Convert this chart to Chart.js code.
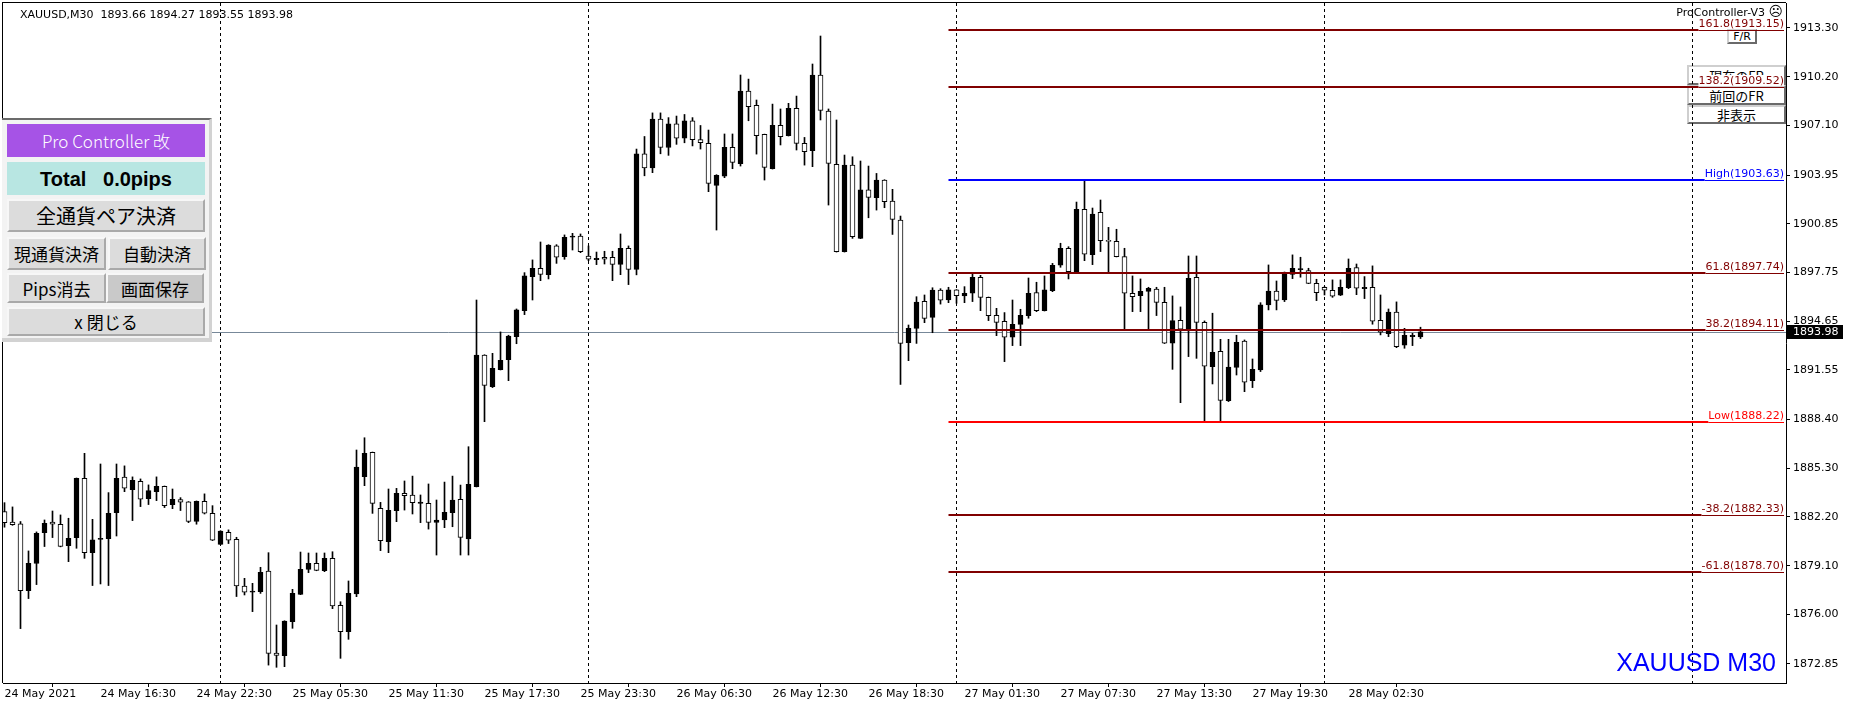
<!DOCTYPE html>
<html>
<head>
<meta charset="utf-8">
<script src="https://cdn.jsdelivr.net/npm/chart.js@4.4.1/dist/chart.umd.min.js"></script>
<style>
  body { margin: 0; background: #fff; width: 1850px; height: 707px; overflow: hidden; position: relative; }
  #chart { position: absolute; left: 0; top: 0; z-index: 1; }
  .frb { position: absolute; z-index: 0; box-sizing: border-box; background: #fff; display: flex; align-items: center; justify-content: center;
         border-top: 2px solid #cfcfcf; border-left: 2px solid #cfcfcf; border-right: 2px solid #6a6a6a; border-bottom: 2px solid #6a6a6a;
         font-family: "Noto Sans CJK JP", sans-serif; font-size: 13px; line-height: 1; color: #000; }
  #panel { position: absolute; z-index: 2; left: 2px; top: 118px; width: 210px; height: 224px; box-sizing: border-box; background: #f3f3f3;
           border-top: 2px solid #6b6b6b; border-right: 3px solid #d2d2d2; border-bottom: 4px solid #d2d2d2; }
  .pb { position: absolute; z-index: 3; box-sizing: border-box; display: flex; align-items: center; justify-content: center; white-space: pre;
        background: #dcdcdc; border-top: 2px solid #f7f7f7; border-left: 2px solid #f7f7f7; border-right: 2px solid #a9a9a9; border-bottom: 2px solid #a9a9a9;
        font-family: "Noto Sans CJK JP", sans-serif; font-size: 17px; line-height: 1; color: #000; }
</style>
</head>
<body>
<div class="frb" style="left:1727px;top:29px;width:30px;height:15px;font-family:'DejaVu Sans';font-size:11px">F/R</div>
<div class="frb" style="left:1687px;top:65px;width:99px;height:20px;align-items:flex-start;padding-top:2px">現在のFR</div>
<div class="frb" style="left:1687px;top:85px;width:99px;height:20px">前回のFR</div>
<div class="frb" style="left:1687px;top:105px;width:99px;height:19px">非表示</div>

<canvas id="chart" width="1850" height="707"></canvas>

<div id="panel"></div>
<div class="pb" style="left:7px;top:124px;width:198px;height:33px;background:#a653e6;border:none;color:#fff;font-size:17px;font-weight:300">Pro Controller 改</div>
<div class="pb" style="left:7px;top:162px;width:198px;height:33px;background:#b8e6e2;border:none;font-family:'Liberation Sans',sans-serif;font-weight:bold;font-size:20px">Total   0.0pips</div>
<div class="pb" style="left:7px;top:199px;width:198px;height:33px;font-size:20px">全通貨ペア決済</div>
<div class="pb" style="left:7px;top:237px;width:99px;height:33px">現通貨決済</div>
<div class="pb" style="left:108px;top:237px;width:98px;height:33px">自動決済</div>
<div class="pb" style="left:7px;top:273px;width:99px;height:30px">Pips消去</div>
<div class="pb" style="left:106px;top:273px;width:98px;height:30px;background:#c9c9c9">画面保存</div>
<div class="pb" style="left:7px;top:307px;width:198px;height:29px">x 閉じる</div>

<script>
// XAUUSD M30, one entry per bar
const opens = [
  1882.54, 1881.88, 1881.76, 1877.52, 1879.24, 1881.21, 1881.88, 1881.74, 1880.38, 1880.89,
  1884.66, 1879.93, 1880.78, 1880.82, 1882.48, 1884.73, 1883.94, 1884.47, 1883.37, 1883.81,
  1884.15, 1882.99, 1883.31, 1883.16, 1881.91, 1883.20, 1882.44, 1880.46, 1881.23, 1880.78,
  1877.81, 1877.41, 1877.45, 1878.76, 1873.55, 1873.38, 1875.54, 1877.28, 1878.87, 1879.25,
  1878.78, 1879.57, 1876.58, 1874.90, 1877.30, 1884.76, 1886.31, 1882.75, 1880.63, 1882.60,
  1883.70, 1883.60, 1883.07, 1883.07, 1881.86, 1882.01, 1882.47, 1883.32, 1880.80, 1884.13,
  1892.50, 1890.49, 1891.57, 1892.21, 1893.67, 1895.32, 1897.49, 1898.02, 1897.61, 1899.44,
  1898.76, 1899.99, 1900.07, 1898.80, 1898.57, 1898.72, 1898.72, 1898.27, 1899.29, 1897.95,
  1905.30, 1904.40, 1907.50, 1905.70, 1907.20, 1906.30, 1907.40, 1906.20, 1905.96, 1903.29,
  1903.88, 1905.71, 1904.67, 1909.29, 1908.38, 1906.53, 1904.35, 1907.11, 1906.45, 1908.19,
  1905.96, 1905.50, 1910.31, 1908.02, 1904.63, 1899.07, 1904.58, 1899.92, 1903.00, 1902.51,
  1903.63, 1902.29, 1901.09, 1893.28, 1894.20, 1895.91, 1894.90, 1896.63, 1896.00, 1896.64,
  1896.26, 1896.43, 1897.44, 1896.17, 1895.03, 1894.65, 1893.63, 1894.45, 1895.01, 1896.47,
  1895.32, 1896.60, 1898.21, 1899.29, 1897.76, 1901.77, 1898.89, 1901.58, 1899.78, 1899.73,
  1898.76, 1896.43, 1896.28, 1896.55, 1896.70, 1895.85, 1893.25, 1894.71, 1894.16, 1897.45,
  1894.58, 1891.76, 1892.74, 1889.60, 1891.72, 1893.38, 1890.87, 1891.55, 1895.69, 1896.56,
  1896.00, 1897.62, 1897.93, 1897.87, 1897.06, 1896.81, 1896.62, 1896.30, 1896.79, 1898.06,
  1896.72, 1896.81, 1894.71, 1893.86, 1895.24, 1893.12, 1893.67, 1893.66
];
const highs = [
  1883.11, 1882.84, 1881.91, 1880.04, 1881.25, 1882.01, 1882.58, 1882.33, 1882.12, 1884.68,
  1886.25, 1882.05, 1885.57, 1883.75, 1885.57, 1885.45, 1884.75, 1884.62, 1884.24, 1884.75,
  1884.17, 1883.98, 1883.43, 1883.18, 1883.22, 1883.67, 1882.92, 1881.33, 1881.38, 1880.91,
  1878.30, 1877.98, 1879.00, 1879.93, 1875.33, 1875.60, 1877.60, 1879.97, 1879.91, 1879.91,
  1879.91, 1879.99, 1876.81, 1878.13, 1886.46, 1887.24, 1886.33, 1883.13, 1883.98, 1884.02,
  1884.49, 1884.80, 1883.60, 1884.30, 1883.28, 1884.42, 1884.80, 1884.23, 1886.67, 1896.00,
  1892.52, 1892.61, 1893.97, 1893.76, 1895.43, 1897.74, 1898.55, 1899.69, 1899.52, 1899.52,
  1900.14, 1900.24, 1900.20, 1899.44, 1899.05, 1899.10, 1899.10, 1900.20, 1899.44, 1905.60,
  1906.40, 1907.90, 1907.90, 1907.60, 1907.70, 1907.80, 1907.60, 1907.10, 1906.81, 1903.97,
  1906.56, 1906.56, 1910.31, 1910.05, 1908.72, 1906.55, 1908.46, 1908.15, 1908.51, 1908.97,
  1906.34, 1911.01, 1912.79, 1908.15, 1907.45, 1905.22, 1905.11, 1904.84, 1904.52, 1904.05,
  1903.65, 1903.04, 1901.34, 1894.41, 1896.21, 1896.32, 1896.78, 1896.72, 1896.81, 1896.66,
  1896.85, 1897.74, 1897.57, 1896.19, 1895.47, 1895.20, 1896.00, 1895.41, 1897.40, 1897.13,
  1897.53, 1898.33, 1899.61, 1899.39, 1902.23, 1903.63, 1901.85, 1902.36, 1900.62, 1900.50,
  1899.29, 1897.53, 1897.34, 1896.81, 1896.81, 1896.81, 1896.26, 1895.56, 1898.80, 1898.80,
  1894.67, 1895.16, 1893.50, 1893.50, 1893.76, 1893.46, 1892.25, 1895.83, 1898.23, 1897.21,
  1897.78, 1898.87, 1898.72, 1898.02, 1897.32, 1896.85, 1897.28, 1897.28, 1898.61, 1898.29,
  1897.49, 1898.17, 1896.32, 1895.43, 1895.88, 1894.20, 1893.88, 1894.27
];
const lows = [
  1881.55, 1881.67, 1875.10, 1877.01, 1877.90, 1880.32, 1880.89, 1880.30, 1879.36, 1880.21,
  1879.57, 1877.84, 1877.94, 1877.84, 1880.99, 1883.81, 1881.97, 1882.86, 1882.99, 1883.24,
  1882.80, 1882.73, 1882.61, 1881.84, 1881.74, 1882.39, 1880.70, 1880.44, 1880.51, 1877.14,
  1877.24, 1876.18, 1877.34, 1872.78, 1872.64, 1872.68, 1875.12, 1877.26, 1878.66, 1878.78,
  1878.72, 1876.37, 1873.21, 1874.42, 1877.13, 1884.19, 1882.43, 1880.06, 1879.93, 1881.90,
  1882.64, 1882.39, 1881.84, 1881.43, 1879.78, 1881.52, 1881.58, 1879.78, 1879.78, 1884.11,
  1888.26, 1890.43, 1891.55, 1890.87, 1893.22, 1895.07, 1896.00, 1897.23, 1897.34, 1898.33,
  1898.59, 1899.18, 1899.01, 1898.50, 1898.25, 1898.29, 1897.23, 1897.61, 1896.98, 1897.60,
  1903.90, 1904.10, 1905.30, 1905.20, 1905.90, 1906.00, 1905.80, 1905.60, 1902.89, 1900.45,
  1903.78, 1904.35, 1904.52, 1907.40, 1905.28, 1903.63, 1904.33, 1905.86, 1906.43, 1905.54,
  1904.58, 1904.48, 1907.45, 1902.04, 1899.05, 1899.05, 1899.92, 1899.90, 1901.23, 1901.72,
  1901.87, 1900.17, 1890.63, 1892.14, 1893.24, 1894.56, 1893.92, 1895.74, 1895.83, 1895.79,
  1895.83, 1895.90, 1895.32, 1894.69, 1893.73, 1892.08, 1893.10, 1893.10, 1894.84, 1895.26,
  1895.30, 1896.53, 1898.08, 1897.34, 1897.70, 1898.50, 1898.25, 1899.08, 1897.70, 1898.74,
  1894.05, 1895.26, 1895.26, 1894.14, 1895.01, 1893.23, 1891.59, 1889.47, 1892.40, 1892.29,
  1888.22, 1890.66, 1888.27, 1889.54, 1891.23, 1890.17, 1890.43, 1891.45, 1895.37, 1895.37,
  1895.90, 1897.36, 1897.45, 1897.04, 1895.96, 1896.32, 1896.17, 1896.28, 1896.72, 1896.34,
  1896.09, 1894.46, 1893.78, 1893.67, 1892.97, 1892.93, 1893.10, 1893.55
];
const closes = [
  1881.84, 1881.71, 1877.52, 1879.26, 1881.16, 1881.80, 1881.74, 1880.32, 1880.85, 1884.66,
  1879.93, 1880.74, 1880.78, 1882.44, 1884.66, 1884.03, 1884.53, 1883.33, 1883.88, 1884.15,
  1882.92, 1883.33, 1883.14, 1881.91, 1883.20, 1882.44, 1880.72, 1881.31, 1880.72, 1877.81,
  1877.41, 1877.49, 1878.68, 1873.53, 1873.40, 1875.58, 1877.34, 1878.87, 1879.25, 1878.80,
  1879.57, 1876.54, 1874.90, 1877.34, 1885.38, 1886.25, 1883.07, 1880.69, 1882.62, 1883.70,
  1883.55, 1883.11, 1883.15, 1881.86, 1882.01, 1882.49, 1883.28, 1880.90, 1884.27, 1892.50,
  1890.57, 1891.66, 1892.16, 1893.71, 1895.37, 1897.53, 1898.02, 1897.63, 1899.50, 1898.72,
  1899.99, 1900.07, 1899.08, 1898.59, 1898.65, 1898.59, 1898.27, 1899.29, 1897.95, 1905.30,
  1904.40, 1907.50, 1905.70, 1907.20, 1906.30, 1907.40, 1906.20, 1906.00, 1903.42, 1903.93,
  1905.71, 1904.75, 1909.29, 1908.29, 1906.45, 1904.44, 1907.11, 1906.39, 1908.19, 1905.96,
  1905.43, 1910.31, 1908.06, 1904.69, 1899.07, 1904.58, 1900.03, 1903.00, 1902.53, 1903.63,
  1902.25, 1901.13, 1893.24, 1894.20, 1895.87, 1894.83, 1896.63, 1895.99, 1896.64, 1896.28,
  1896.43, 1897.44, 1896.17, 1895.01, 1894.58, 1893.63, 1894.45, 1895.03, 1896.43, 1895.32,
  1896.64, 1898.21, 1899.29, 1897.80, 1901.77, 1898.91, 1901.47, 1899.78, 1899.73, 1898.76,
  1896.43, 1896.21, 1896.55, 1896.74, 1895.85, 1893.25, 1894.69, 1894.14, 1897.38, 1894.58,
  1891.79, 1892.68, 1889.62, 1891.74, 1893.31, 1890.77, 1891.59, 1895.69, 1896.56, 1895.98,
  1897.76, 1898.02, 1898.00, 1897.06, 1896.47, 1896.62, 1896.24, 1896.81, 1898.02, 1896.75,
  1896.81, 1894.65, 1893.95, 1895.24, 1893.04, 1893.76, 1893.76, 1893.98
];

// axis labels (one time label every 12 bars)
const timeLabels = ['24 May 2021', '24 May 16:30', '24 May 22:30', '25 May 05:30', '25 May 11:30',
  '25 May 17:30', '25 May 23:30', '26 May 06:30', '26 May 12:30', '26 May 18:30',
  '27 May 01:30', '27 May 07:30', '27 May 13:30', '27 May 19:30', '28 May 02:30'];
const priceTicks = [1872.85, 1876.00, 1879.10, 1882.20, 1885.30, 1888.40, 1891.55,
  1894.65, 1897.75, 1900.85, 1903.95, 1907.10, 1910.20, 1913.30];

// day separators (bar index), fibo levels drawn from bar 118
const daySeparators = [27, 73, 119, 165, 211];
const fiboNames = ['161.8', '138.2', 'High', '61.8', '38.2', 'Low', '-38.2', '-61.8'];
const fiboPrices = [1913.15, 1909.52, 1903.63, 1897.74, 1894.11, 1888.22, 1882.33, 1878.70];
const fiboColors = ['#800000', '#800000', '#0000ff', '#800000', '#800000', '#ff0000', '#800000', '#800000'];
const fiboFromBar = 118;

const bid = closes[closes.length - 1];
const FONT = '"DejaVu Sans", sans-serif';

const bodies = opens.map((o, i) => ({ x: i, y: [Math.min(o, closes[i]), Math.max(o, closes[i])] }));
const wicks = highs.map((h, i) => ({ x: i, y: [lows[i], h] }));
const bodyColors = opens.map((o, i) => closes[i] >= o ? '#000' : '#fff');

const decor = {
    id: 'decor',
    beforeDatasetsDraw(chart) {
        const { ctx, chartArea: a, scales: { x, y } } = chart;
        ctx.save();
        ctx.strokeStyle = '#000';
        ctx.lineWidth = 1;
        ctx.setLineDash([3, 3]);
        daySeparators.forEach(i => {
            const px = Math.floor(x.getPixelForValue(i)) + 0.5;
            ctx.beginPath();
            ctx.moveTo(px, a.top);
            ctx.lineTo(px, a.bottom);
            ctx.stroke();
        });
        ctx.setLineDash([]);
        const py = Math.round(y.getPixelForValue(bid)) + 0.5;
        ctx.strokeStyle = '#778899';
        ctx.beginPath();
        ctx.moveTo(a.left, py);
        ctx.lineTo(a.right, py);
        ctx.stroke();
        ctx.restore();
    },
    afterDatasetsDraw(chart) {
        const { ctx, chartArea: a, scales: { x, y } } = chart;
        ctx.save();
        ctx.font = '11px ' + FONT;
        ctx.textAlign = 'right';
        ctx.textBaseline = 'alphabetic';
        const x0 = x.getPixelForValue(fiboFromBar);
        const xr = a.right - 2;
        fiboPrices.forEach((p, k) => {
            const py = Math.round(y.getPixelForValue(p));
            const txt = fiboNames[k] + '(' + p.toFixed(2) + ')';
            const tx = xr - ctx.measureText(txt).width;
            ctx.fillStyle = '#fff';
            ctx.fillRect(tx, py - 12, xr - tx, 11);
            ctx.fillStyle = fiboColors[k];
            ctx.fillRect(x0, py - 1, tx - x0, 2);
            ctx.fillRect(tx, py, xr - tx, 1);
            ctx.fillText(txt, xr, py - 3);
        });
        ctx.restore();
    },
    afterDraw(chart) {
        const { ctx, chartArea: a, scales: { y } } = chart;
        ctx.save();
        ctx.fillStyle = '#000';
        ctx.fillRect(2, 2, a.right - 2, 1);
        ctx.fillRect(2, 2, 1, a.bottom - 2);

        ctx.font = '11px ' + FONT;
        ctx.textBaseline = 'middle';
        ctx.textAlign = 'left';
        ctx.fillText('XAUUSD,M30  ' + [opens, highs, lows, closes].map(s => s[s.length - 1].toFixed(2)).join(' '), 20, 15);
        ctx.textAlign = 'right';
        ctx.fillText('ProController-V3', 1765, 13);
        ctx.font = '14px ' + FONT;
        ctx.fillText('\u2639', 1783, 12);

        ctx.font = '25px "Liberation Sans", Arial, sans-serif';
        ctx.fillStyle = '#0000ff';
        ctx.textBaseline = 'alphabetic';
        ctx.fillText('XAUUSD M30', 1776, 671);

        const py = Math.round(y.getPixelForValue(bid));
        ctx.fillStyle = '#000';
        ctx.fillRect(a.right + 1, py - 7, 56, 14);
        ctx.fillStyle = '#fff';
        ctx.font = '11px ' + FONT;
        ctx.textAlign = 'left';
        ctx.textBaseline = 'middle';
        ctx.fillText(bid.toFixed(2), a.right + 7, py);
        ctx.restore();
    }
};

new Chart(document.getElementById('chart'), {
    type: 'bar',
    data: {
        datasets: [
            {
                label: 'body',
                data: bodies,
                backgroundColor: bodyColors,
                borderColor: '#000',
                borderWidth: 1,
                borderSkipped: false,
                barThickness: 5,
                minBarLength: 1,
                grouped: false,
                order: 0
            },
            {
                label: 'wick',
                data: wicks,
                backgroundColor: '#000',
                borderWidth: 0,
                barThickness: 1,
                grouped: false,
                order: 1
            }
        ]
    },
    options: {
        responsive: false,
        animation: false,
        devicePixelRatio: 1,
        layout: { padding: { left: 3, top: 3, right: 0, bottom: 0 } },
        plugins: { legend: { display: false }, tooltip: { enabled: false } },
        scales: {
            x: {
                type: 'linear',
                min: -0.1875,
                max: 222.6875,
                offset: false,
                afterBuildTicks: s => { s.ticks = timeLabels.map((t, k) => ({ value: k * 12 })); },
                afterFit: s => { s.height = 24; s.paddingLeft = 0; s.paddingRight = 0; },
                grid: { drawOnChartArea: false, tickLength: 4, color: '#000' },
                border: { display: true, color: '#000' },
                ticks: {
                    autoSkip: false, maxRotation: 0, align: 'start', padding: 1,
                    color: '#000', font: { family: 'DejaVu Sans', size: 11 },
                    callback: (v, i) => timeLabels[i]
                }
            },
            y: {
                position: 'right',
                min: 1871.641,
                max: 1914.890,
                afterBuildTicks: s => { s.ticks = priceTicks.map(v => ({ value: v })); },
                afterFit: s => { s.width = 64; s.paddingTop = 0; s.paddingBottom = 0; },
                grid: { drawOnChartArea: false, tickLength: 4, color: '#000' },
                border: { display: true, color: '#000' },
                ticks: {
                    autoSkip: false, padding: 3,
                    color: '#000', font: { family: 'DejaVu Sans', size: 11 },
                    callback: v => v.toFixed(2)
                }
            }
        }
    },
    plugins: [decor]
});
</script>
</body>
</html>
